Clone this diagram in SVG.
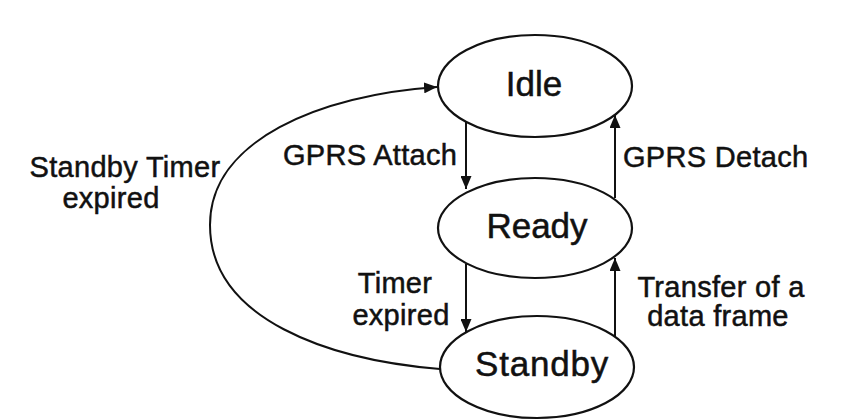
<svg xmlns="http://www.w3.org/2000/svg" width="845" height="420" viewBox="0 0 845 420">
<style>
.node{fill:#fff;stroke:#111;stroke-width:2.2}
.nt{font-family:"Liberation Sans",Arial,sans-serif;font-size:35px;fill:#111;stroke:#111;stroke-width:0.5;text-anchor:middle}
.lbl{font-family:"Liberation Sans",Arial,sans-serif;font-size:29px;letter-spacing:0.3px;fill:#111;stroke:#111;stroke-width:0.5}
.edge{fill:none;stroke:#111;stroke-width:2}
</style>
<defs>
<marker id="ah" viewBox="0 0 13 11" refX="13" refY="5.5" markerWidth="13" markerHeight="11" markerUnits="userSpaceOnUse" orient="auto">
<path d="M0,0 L13,5.5 L0,11 Z" fill="#111"/>
</marker>
</defs>
<rect width="845" height="420" fill="#fff"/>
<g id="connectors">
<line class="edge" x1="466" y1="120" x2="466" y2="189" marker-end="url(#ah)"/>
<line class="edge" x1="615" y1="198" x2="615" y2="115" marker-end="url(#ah)"/>
<line class="edge" x1="466" y1="264" x2="466" y2="332" marker-end="url(#ah)"/>
<line class="edge" x1="615" y1="337" x2="615" y2="258" marker-end="url(#ah)"/>
<path class="edge" d="M440,369 C330,360 210,320 210,225 C210,140 320,95 437,87" marker-end="url(#ah)"/>
</g>
<g id="idle">
<ellipse class="node" cx="535" cy="86" rx="97" ry="51"/>
<text class="nt" x="534" y="96">Idle</text>
</g>
<g id="ready">
<ellipse class="node" cx="535" cy="228" rx="97" ry="50"/>
<text class="nt" x="537" y="238">Ready</text>
</g>
<g id="standby">
<ellipse class="node" cx="537" cy="367" rx="97" ry="51"/>
<text class="nt" x="542" y="376" letter-spacing="0.8">Standby</text>
</g>
<g id="labels">
<text class="lbl" x="283" y="165">GPRS Attach</text>
<text class="lbl" x="623" y="167">GPRS Detach</text>
<text class="lbl" x="395" y="293" text-anchor="middle">Timer</text>
<text class="lbl" x="401" y="325" text-anchor="middle">expired</text>
<text class="lbl" x="721" y="297" text-anchor="middle">Transfer of a</text>
<text class="lbl" x="718" y="326" text-anchor="middle">data frame</text>
<text class="lbl" x="125" y="177" text-anchor="middle">Standby Timer</text>
<text class="lbl" x="111" y="208" text-anchor="middle">expired</text>
</g>
</svg>
